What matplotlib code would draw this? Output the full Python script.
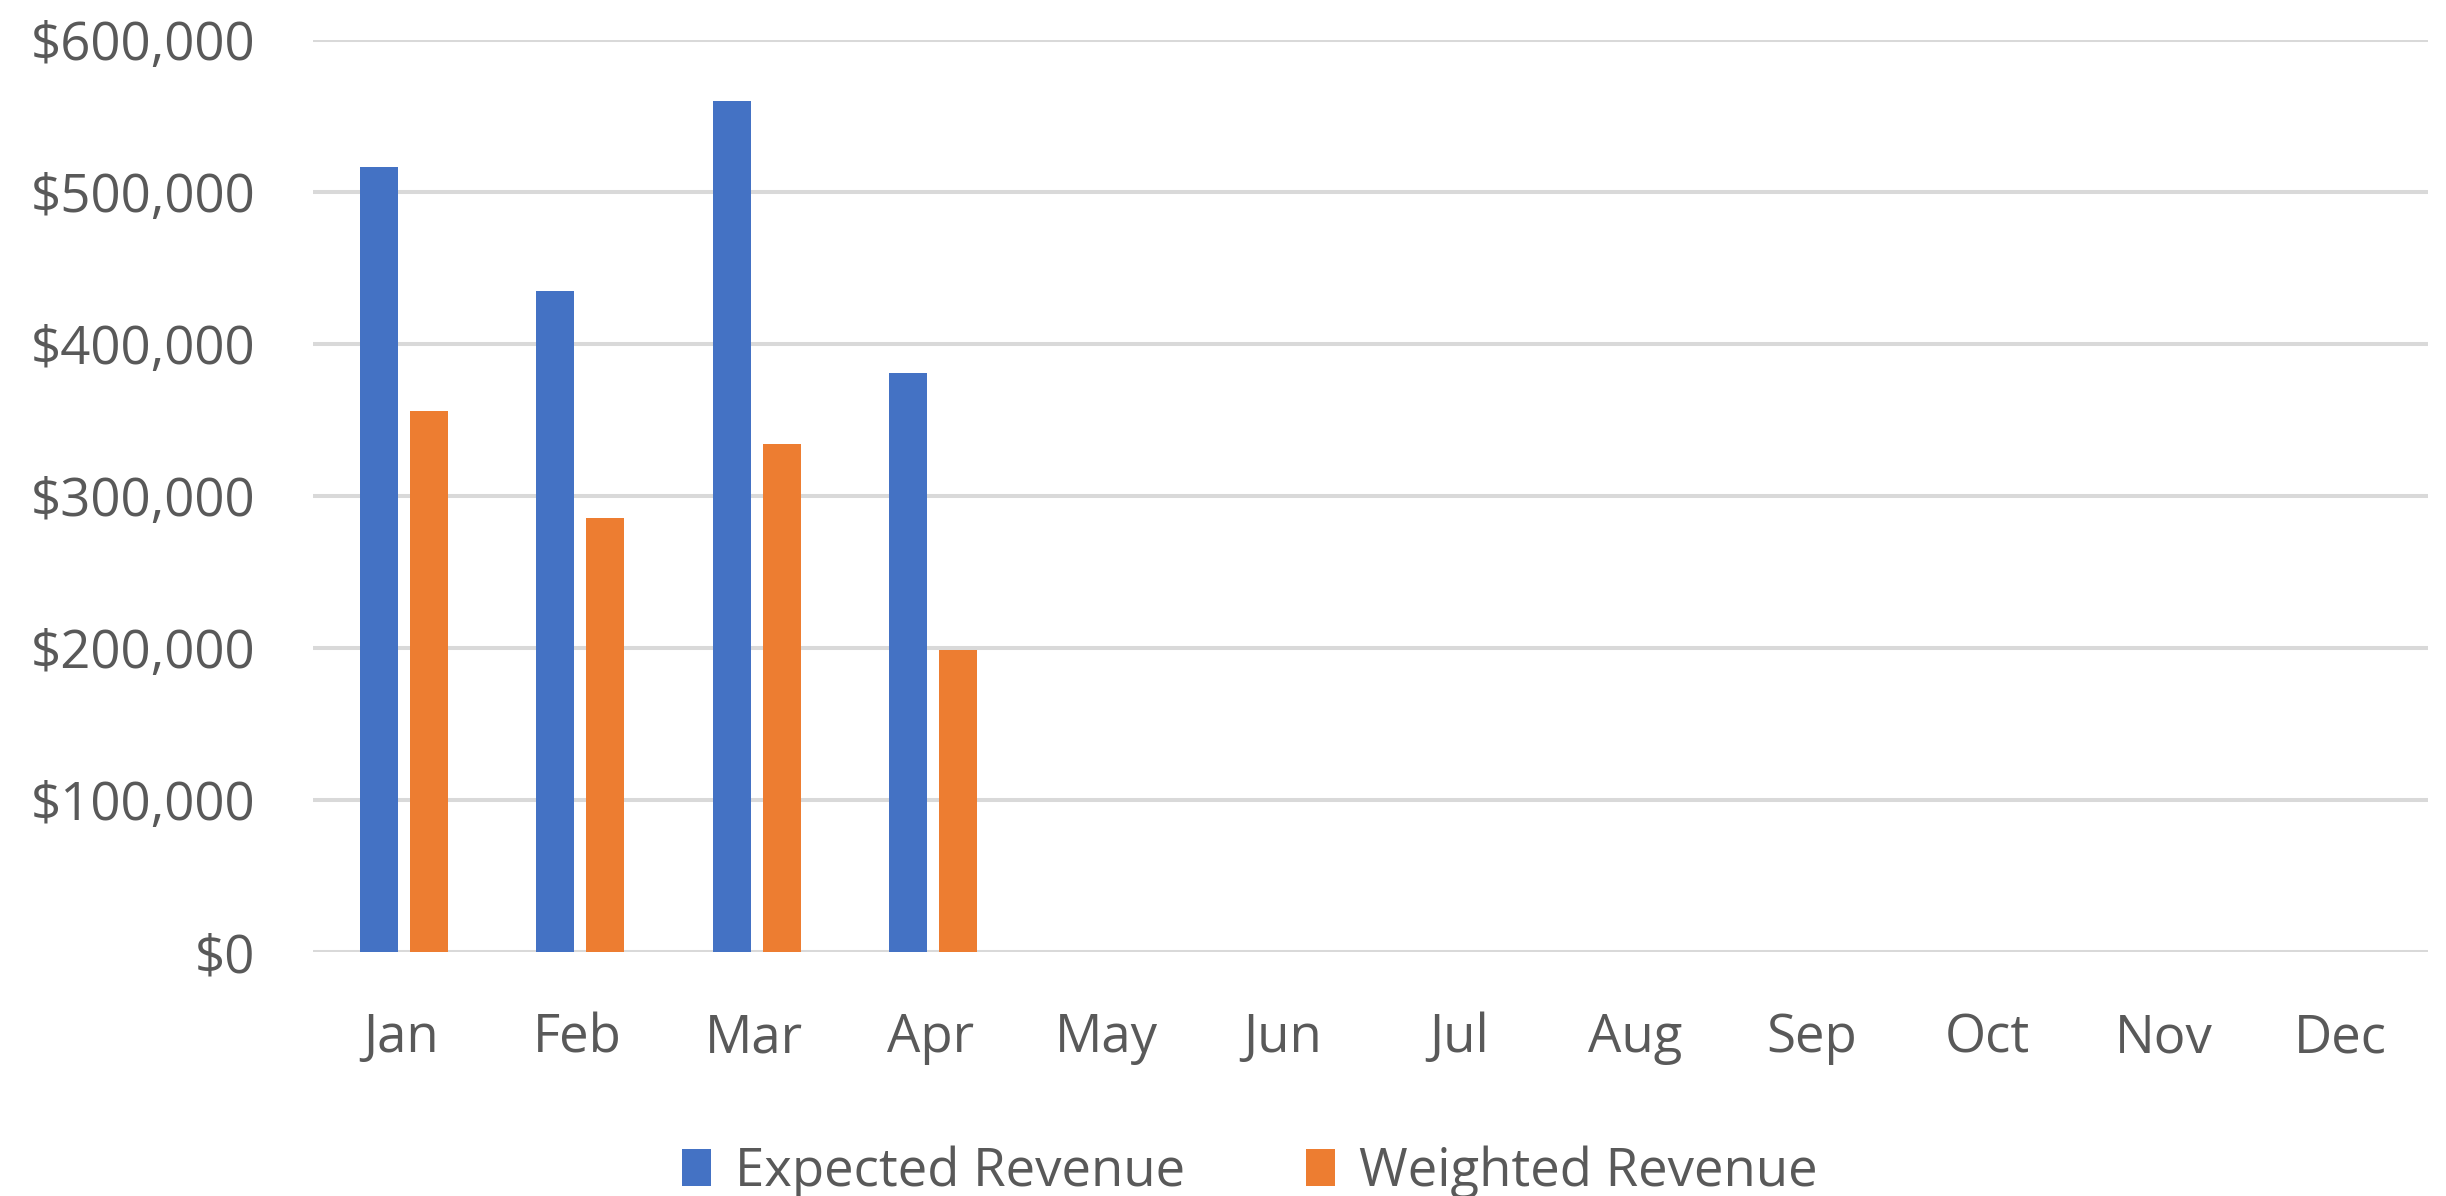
import matplotlib
matplotlib.use("Agg")
import matplotlib.pyplot as plt
import numpy as np
from matplotlib.ticker import FuncFormatter

months = ["Jan", "Feb", "Mar", "Apr", "May", "Jun", "Jul", "Aug", "Sep", "Oct", "Nov", "Dec"]
expected = [516500, 435100, 560100, 381000]
weighted = [356200, 285700, 334400, 198900]
y_ticks = [0, 100000, 200000, 300000, 400000, 500000, 600000]

plt.rcParams['font.family'] = ['Open Sans', 'DejaVu Sans']
TXT = "#595959"
GRID = "#d9d9d9"
BLUE = "#4472C4"
ORANGE = "#ED7D31"

fig = plt.figure(figsize=(24.46, 11.96), dpi=100)
ax = fig.add_axes([313.4 / 2446, 1 - 952.2 / 1196, (2428 - 313.4) / 2446, (952.2 - 40.2) / 1196])

x = np.arange(len(months))
w = 0.215
off = 0.142
ax.bar(x[:len(expected)] - off + 0.015, expected, width=w, color=BLUE, label="Expected Revenue", zorder=3)
ax.bar(x[:len(weighted)] + off + 0.015, weighted, width=w, color=ORANGE, label="Weighted Revenue", zorder=3)

ax.set_xlim(-0.5, len(months) - 0.5)
ax.set_ylim(0, 600000)
ax.set_yticks(y_ticks)
ax.yaxis.set_major_formatter(FuncFormatter(lambda v, p: "${:,.0f}".format(v)))
ax.set_xticks(x)
ax.set_xticklabels(months)

for s in ax.spines.values():
    s.set_visible(False)
ax.grid(axis="y", color=GRID, linewidth=2.9, zorder=0)
ax.set_axisbelow(True)
ax.tick_params(axis="both", length=0, labelsize=38, labelcolor=TXT)
ax.tick_params(axis="y", pad=42)
ax.tick_params(axis="x", pad=43)

fig.legend(loc="center", bbox_to_anchor=(1250 / 2446, 1 - 1172 / 1196), ncol=2, frameon=False,
           fontsize=38, labelcolor=TXT, handlelength=0.55, handleheight=0.7,
           handletextpad=0.45, columnspacing=2.3)

fig.savefig("out.png", dpi=100)
